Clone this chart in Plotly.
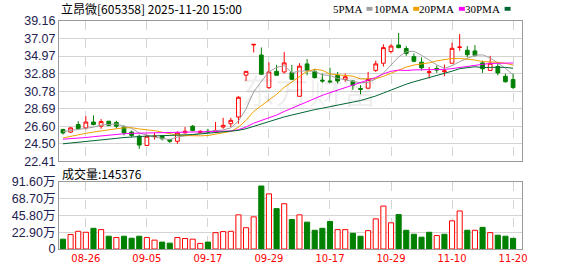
import plotly.graph_objects as go

# ---------------- data ----------------
dates = ["08-21", "08-22", "08-25", "08-26", "08-27", "08-28", "08-29", "09-01", "09-02", "09-03",
         "09-04", "09-05", "09-08", "09-09", "09-10", "09-11", "09-12", "09-15", "09-16", "09-17",
         "09-18", "09-19", "09-22", "09-23", "09-24", "09-25", "09-26", "09-29", "09-30", "10-09",
         "10-10", "10-13", "10-14", "10-15", "10-16", "10-17", "10-20", "10-21", "10-22", "10-23",
         "10-24", "10-27", "10-28", "10-29", "10-30", "10-31", "11-03", "11-04", "11-05", "11-06",
         "11-07", "11-10", "11-11", "11-12", "11-13", "11-14", "11-17", "11-18", "11-19", "11-20"]

opens = [26.2, 25.9, 26.8, 26.4, 27.1, 26.6, 27.2, 27.05, 26.5, 25.9,
         25.4, 24.3, 25.35, 25.45, 25.0, 24.8, 25.8, 26.6, 25.85, 26.0,
         25.9, 26.5, 26.9, 27.7, 32.7, 36.3, 35.1, 31.2, 33.15, 33.08,
         33.0, 30.17, 34.04, 33.15, 32.1, 32.0, 32.67, 32.18, 32.0, 31.1,
         31.13, 33.26, 34.12, 35.52, 36.29, 35.87, 34.9, 34.24, 33.0, 33.5,
         33.1, 34.12, 36.0, 35.67, 35.59, 34.16, 33.26, 33.73, 32.56, 32.18]
highs = [26.3, 26.5, 27.2, 27.8, 27.9, 27.45, 27.2, 27.25, 26.7, 26.1,
         25.6, 25.6, 25.8, 25.5, 25.1, 26.0, 26.5, 26.75, 26.1, 26.3,
         27.1, 27.6, 27.6, 30.2, 33.15, 36.4, 36.0, 34.24, 33.93, 35.47,
         33.9, 34.12, 34.62, 33.46, 32.88, 33.6, 33.08, 32.88, 32.1, 31.5,
         33.08, 34.43, 36.37, 36.37, 37.73, 36.17, 35.29, 34.82, 33.66, 33.85,
         33.96, 36.56, 37.6, 36.17, 36.29, 34.43, 35.0, 34.24, 32.88, 32.88]
lows = [25.6, 25.8, 26.2, 26.2, 26.7, 26.3, 26.6, 26.35, 25.5, 25.3,
        23.9, 24.3, 25.0, 24.9, 24.6, 24.5, 25.75, 26.0, 25.7, 25.8,
        25.8, 26.3, 26.5, 26.9, 32.0, 35.4, 32.8, 31.05, 32.68, 32.9,
        32.1, 30.17, 32.68, 32.3, 31.8, 31.8, 31.7, 31.9, 30.94, 30.4,
        31.13, 33.08, 33.73, 35.29, 35.9, 35.0, 34.24, 33.26, 32.3, 32.96,
        32.56, 34.12, 35.6, 34.82, 34.9, 32.96, 33.26, 32.68, 31.8, 31.05]
closes = [25.8, 26.4, 26.3, 27.1, 26.8, 27.15, 26.7, 26.6, 25.8, 25.5,
          24.35, 25.4, 25.4, 25.1, 24.8, 25.8, 26.0, 26.1, 26.0, 25.9,
          26.1, 26.7, 27.3, 30.05, 33.15, 36.37, 32.8, 33.08, 32.68, 34.16,
          32.2, 33.77, 33.26, 32.41, 32.0, 31.9, 32.0, 32.5, 31.5, 31.0,
          32.18, 34.04, 35.98, 36.17, 35.98, 35.29, 34.35, 33.58, 33.1, 33.3,
          33.2, 35.9, 36.05, 35.13, 35.05, 33.46, 34.12, 32.96, 31.91, 31.21]

ma5 = [25.95, 26.1, 26.25, 26.4, 26.48, 26.75, 26.81, 26.87, 26.61, 26.35,
       25.79, 25.53, 25.29, 25.15, 25.01, 25.3, 25.42, 25.56, 25.74, 25.96,
       26.02, 26.16, 26.4, 27.21, 28.66, 30.71, 31.93, 33.09, 33.62, 33.82,
       32.98, 33.18, 33.21, 33.16, 32.73, 32.67, 32.31, 32.16, 31.98, 31.78,
       31.84, 32.24, 32.94, 33.87, 34.87, 35.49, 35.55, 35.07, 34.46, 33.92,
       33.51, 33.82, 34.31, 34.72, 35.07, 35.12, 34.76, 34.14, 33.5, 32.73]
ma10 = [25.2, 25.4, 25.6, 25.75, 25.9, 26.05, 26.2, 26.3, 26.4, 26.42,
        26.27, 26.17, 26.08, 25.88, 25.68, 25.55, 25.48, 25.43, 25.45, 25.49,
        25.66, 25.79, 25.98, 26.48, 27.31, 28.37, 29.05, 29.75, 30.41, 31.24,
        31.85, 32.56, 33.15, 33.39, 33.27, 32.83, 32.75, 32.69, 32.57, 32.25,
        32.25, 32.28, 32.55, 32.93, 33.33, 33.66, 33.9, 34.01, 34.17, 34.4,
        34.5, 34.69, 34.69, 34.59, 34.5, 34.31, 34.29, 34.23, 34.11, 33.9]
ma20 = [25.05, 25.1, 25.2, 25.25, 25.35, 25.45, 25.5, 25.6, 25.7, 25.75,
        25.78, 25.8, 25.82, 25.85, 25.85, 25.88, 25.9, 25.92, 25.93, 25.95,
        25.97, 25.98, 26.03, 26.18, 26.5, 26.96, 27.26, 27.59, 27.93, 28.36,
        28.75, 29.17, 29.57, 29.93, 30.29, 30.6, 30.9, 31.22, 31.49, 31.75,
        32.05, 32.42, 32.85, 33.16, 33.3, 33.25, 33.32, 33.35, 33.37, 33.33,
        33.38, 33.48, 33.62, 33.76, 33.91, 33.99, 34.09, 34.12, 34.14, 34.15]
ma30 = [24.5, 24.58, 24.66, 24.75, 24.85, 24.95, 25.05, 25.15, 25.25, 25.32,
        25.38, 25.42, 25.44, 25.46, 25.48, 25.5, 25.55, 25.6, 25.68, 25.75,
        25.82, 25.9, 25.98, 26.1, 26.3, 26.6, 26.9, 27.15, 27.42, 27.71,
        27.93, 28.17, 28.4, 28.58, 28.75, 28.91, 29.09, 29.29, 29.48, 29.66,
        29.92, 30.21, 30.56, 30.93, 31.3, 31.62, 31.9, 32.15, 32.38, 32.63,
        32.87, 33.17, 33.47, 33.63, 33.7, 33.6, 33.64, 33.64, 33.62, 33.52]

# volume in 万 (10k shares); 1 = red (up) bar, 0 = green (down) bar
volume = [13.4, 19.7, 24.1, 22.8, 28.2, 26.4, 17.4, 15.6, 17.4, 14.7,
          17.4, 15.6, 12.1, 9.4, 8.0, 15.6, 14.3, 13.4, 7.6, 9.4,
          22.3, 23.7, 24.1, 46.5, 29.0, 43.8, 85.8, 75.1, 55.0, 61.7,
          40.2, 46.5, 36.6, 25.5, 28.2, 37.5, 26.4, 26.4, 21.4, 17.4,
          25.0, 41.1, 58.5, 35.7, 46.9, 25.5, 20.1, 16.1, 22.8, 18.3,
          20.1, 38.4, 51.8, 25.5, 25.5, 29.5, 22.3, 18.8, 17.4, 14.5376]
vol_up = [0, 1, 1, 1, 0, 1, 0, 1, 0, 0,
          0, 1, 1, 0, 0, 1, 1, 1, 1, 0,
          1, 1, 1, 1, 1, 1, 0, 1, 0, 1,
          0, 1, 0, 0, 0, 0, 1, 1, 0, 0,
          1, 1, 1, 1, 0, 0, 0, 0, 0, 1,
          0, 1, 1, 0, 1, 0, 1, 0, 0, 0]

tick_dates = ["08-26", "09-05", "09-17", "09-29", "10-17", "10-29", "11-10", "11-20"]
price_ticks = [22.41, 24.50, 26.60, 28.69, 30.78, 32.88, 34.97, 37.07, 39.16]
vol_ticks = [0, 22.9, 45.8, 68.7, 91.6]
vol_tick_text = ["0", "22.90万", "45.80万", "68.70万", "91.60万"]
title_text = "立昂微[605358] 2025-11-20 15:00"
vol_title = "成交量:145376"
ma_names = ["5PMA", "10PMA", "20PMA", "30PMA"]
ma_colors = ["#a0a0a0", "#f0a000", "#ff00ff", "#006633"]

# ---------------- layout geometry ----------------
W, H = 578, 276
ML, MR, MT, MB = 56, 56, 21, 21
PW, PH = W - ML - MR, H - MT - MB


def fx(x):
    return (x - ML) / PW


def fy(y):
    return (H - MB - y) / PH


UP, DOWN = "#ff0000", "#008000"
GRID = "#d4d4d4"
FRAME = "#9a9a9a"
TICKC = "#1e2250"

fig = go.Figure()

fig.add_trace(go.Candlestick(
    x=dates, open=opens, high=highs, low=lows, close=closes,
    increasing=dict(line=dict(color=UP, width=1), fillcolor="#ffffff"),
    decreasing=dict(line=dict(color=DOWN, width=1), fillcolor=DOWN),
    whiskerwidth=0, xaxis="x", yaxis="y", showlegend=False, hoverinfo="skip"))

for vals, col in zip([ma5, ma10, ma20, ma30], ma_colors):
    fig.add_trace(go.Scatter(x=dates, y=vals, mode="lines",
                             line=dict(color=col, width=1),
                             xaxis="x", yaxis="y", showlegend=False, hoverinfo="skip"))

fig.add_trace(go.Bar(
    x=dates, y=volume,
    marker=dict(color=["#ffffff" if u else DOWN for u in vol_up],
                line=dict(color=[UP if u else DOWN for u in vol_up], width=1)),
    xaxis="x2", yaxis="y2", showlegend=False, hoverinfo="skip"))

xrange = [-0.52, 60.17]
common_x = dict(type="category", categoryorder="array", categoryarray=dates,
                range=xrange, tickvals=tick_dates, showgrid=True, gridcolor=GRID,
                griddash="dash", gridwidth=1, showline=True, mirror=True,
                linecolor=FRAME, linewidth=1, ticks="", zeroline=False, fixedrange=True)

fig.update_layout(
    width=W, height=H,
    margin=dict(l=ML, r=MR, t=MT, b=MB, pad=0),
    paper_bgcolor="#ffffff", plot_bgcolor="#ffffff",
    font=dict(family="Liberation Sans, Arial, sans-serif", size=12, color="#000"),
    bargap=0.33,
    xaxis=dict(common_x, anchor="y", showticklabels=False,
               rangeslider=dict(visible=False)),
    xaxis2=dict(common_x, anchor="y2", showticklabels=True, ticktext=tick_dates,
                tickfont=dict(family="DejaVu Sans", size=10, color="#ff0000")),
    yaxis=dict(domain=[fy(165), 1], range=[price_ticks[0], price_ticks[-1]],
               tickvals=price_ticks, ticktext=["%.2f" % v for v in price_ticks],
               showgrid=True, gridcolor=GRID, gridwidth=1, zeroline=False,
               showline=True, mirror=True, linecolor=FRAME, linewidth=1, ticks="",
               tickfont=dict(family="Liberation Sans", size=12.5, color=TICKC),
               fixedrange=True),
    yaxis2=dict(domain=[0, fy(186)], range=[0, 91.6],
                tickvals=vol_ticks, ticktext=vol_tick_text,
                showgrid=True, gridcolor=GRID, gridwidth=1, zeroline=False,
                showline=True, mirror=True, linecolor=FRAME, linewidth=1, ticks="",
                tickfont=dict(family="Liberation Sans, Noto Sans CJK SC", size=12.5, color=TICKC),
                fixedrange=True),
)

annotations = [
    dict(text=title_text, xref="paper", yref="paper", x=fx(56), y=fy(8.5),
         xanchor="left", yanchor="middle", showarrow=False,
         font=dict(family="Noto Sans CJK SC", size=12, color="#000")),
    dict(text=vol_title, xref="paper", yref="paper", x=fx(57), y=fy(178),
         xanchor="left", yanchor="middle", showarrow=False,
         font=dict(family="Noto Sans CJK SC", size=12, color="#000")),
    dict(text="东方财富", xref="paper", yref="paper", x=fx(308), y=fy(91),
         xanchor="center", yanchor="middle", showarrow=False,
         font=dict(family="Noto Sans CJK SC", size=34, color="rgba(0,0,0,0.07)")),
]

shapes = []
legend_text_right = [363, 410, 456, 502]
for name, col, xr in zip(ma_names, ma_colors, legend_text_right):
    annotations.append(dict(text=name, xref="paper", yref="paper", x=fx(xr), y=fy(8.5),
                            xanchor="right", yanchor="middle", showarrow=False,
                            font=dict(family="Liberation Serif", size=11, color="#000")))
    shapes.append(dict(type="rect", xref="paper", yref="paper",
                       x0=fx(xr + 2.5), x1=fx(xr + 8.5), y0=fy(10.5), y1=fy(6.5),
                       fillcolor=col, line=dict(width=0)))

fig.update_layout(annotations=annotations, shapes=shapes)

fig.write_html("out.html")
